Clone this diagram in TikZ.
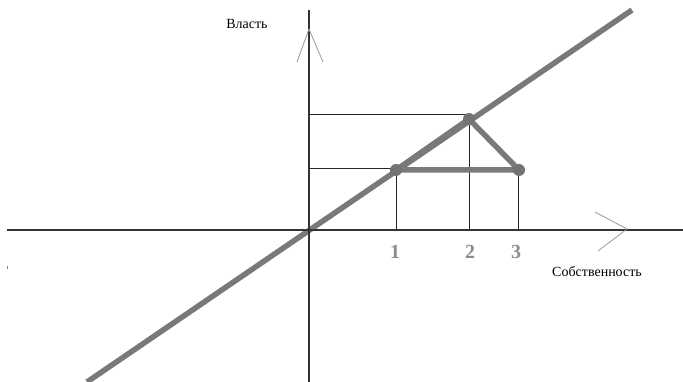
\documentclass[tikz,border=0pt]{standalone}
\usepackage{fontspec}
\setmainfont{Liberation Serif}
\begin{document}
\begin{tikzpicture}[x=1pt,y=-1pt,
  axis/.style={draw=black!80,line width=1.2pt},
  guide/.style={draw=black!85,line width=0.9pt},
  chev/.style={draw=black!40,line width=0.8pt},
  thick gray/.style={draw=gray!95!black,line width=5.5pt},
  dot/.style={circle,fill=gray!90!black,inner sep=0pt,minimum size=12pt},
  numlab/.style={text=black!45,font=\fontsize{20}{20}\selectfont\bfseries},
  axlab/.style={font=\fontsize{14}{14}\selectfont}]
\useasboundingbox (0,0) rectangle (683,382);
\coordinate (O) at (309,230);
\coordinate (ytop) at (309,10);
\coordinate (ybot) at (309,382);
\coordinate (xl) at (7,230);
\coordinate (xr) at (683,230);
% diagonal
\coordinate (dA) at (87,382);
\coordinate (dB) at (632,10);
\begin{scope}
\clip (0,0) rectangle (683,382);
\draw[thick gray] (dA) -- (dB);
\end{scope}
% axes
\draw[axis] (xl) -- (xr);
\draw[axis] (ytop) -- (ybot);
% chevrons
\coordinate (uA) at (309,29);
\coordinate (uL) at (297,62);
\coordinate (uR) at (323,62);
\draw[chev] (uL) -- (uA) -- (uR);
\coordinate (rA) at (627,229);
\coordinate (rT) at (595,212);
\coordinate (rB) at (598,251);
\draw[chev] (rT) -- (rA) -- (rB);
% points
\coordinate (P1) at (396,170);
\coordinate (P2) at (469,119);
\coordinate (P3) at (519,170);
% guides
\coordinate (g2y) at (309,114);
\coordinate (g2) at (469,114);
\coordinate (g1y) at (309,168);
\coordinate (g1) at (396,168);
\coordinate (b1) at (396,230);
\coordinate (b2) at (469,230);
\coordinate (b3) at (518,230);
\coordinate (t3) at (518,170);
\draw[guide] (g2y) -- (g2) -- (b2);
\draw[guide] (g1y) -- (g1) -- (b1);
\draw[guide] (t3) -- (b3);
% triangle
\draw[thick gray,line join=round] (P1) -- (P2) -- (P3) -- cycle;
\node[dot] (d1) at (P1) {};
\node[dot] (d2) at (P2) {};
\node[dot] (d3) at (P3) {};
% labels
\node[numlab] (n1) at (395,252) {1};
\node[numlab] (n2) at (470,252) {2};
\node[numlab] (n3) at (516,252) {3};
\node[axlab] (lx) at (597,272) {Собственность};
\node[axlab] (ly) at (247,24) {Власть};
\fill[black!50] (6.5,266.5) rectangle (8,269);
\end{tikzpicture}
\end{document}
